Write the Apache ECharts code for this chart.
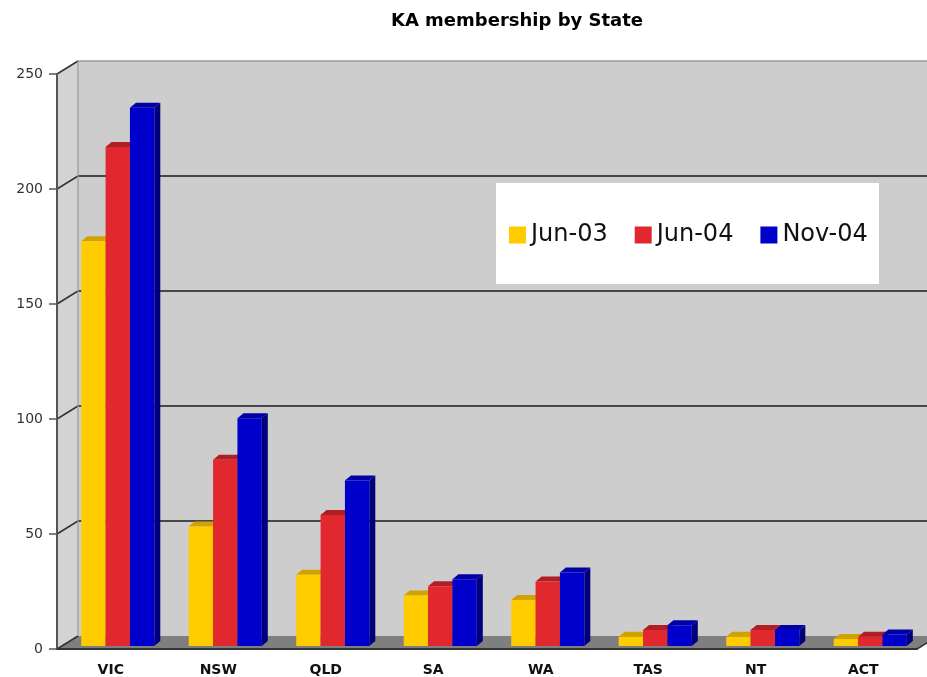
<!DOCTYPE html>
<html>
<head>
<meta charset="utf-8">
<script src="https://cdn.jsdelivr.net/npm/echarts@6/dist/echarts.min.js"></script>
<style>html,body{margin:0;padding:0;background:#fff}#c{width:927px;height:677px}</style>
</head>
<body>
<div id="c"></div>
<script>
const categories = ['VIC', 'NSW', 'QLD', 'SA', 'WA', 'TAS', 'NT', 'ACT'];
const seriesNames = ['Jun-03', 'Jun-04', 'Nov-04'];
const jun03 = [176, 52, 31, 22, 20, 4, 4, 3];
const jun04 = [217, 81, 57, 26, 28, 7, 7, 4];
const nov04 = [234, 99, 72, 29, 32, 9, 7, 5];
const yTicks = [0, 50, 100, 150, 200, 250];

const FONT = 'DejaVu Sans';
const WALL_DX = 21, WALL_DY = -13;
const BAR_OX = 7, BAR_OY = -3, BAR_DX = 6, BAR_DY = -5;
const GROUP_FRAC = 0.68;

const palettes = [
  { front: '#FFCC00', top: '#D2A200', side: '#B08A00' },
  { front: '#E0282E', top: '#B01F24', side: '#8E181C' },
  { front: '#0000CC', top: '#0000A6', side: '#00007A' }
];
const allSeries = [jun03, jun04, nov04];

function wallRender(params, api) {
  const cs = params.coordSys;
  const L = cs.x, R = cs.x + cs.width, T = cs.y, B = cs.y + cs.height;
  const ch = [];
  ch.push({ type: 'rect', shape: { x: L + WALL_DX, y: T + WALL_DY, width: R - L, height: B - T }, style: { fill: '#CDCDCD' } });
  ch.push({ type: 'polygon', shape: { points: [[L, T], [L + WALL_DX, T + WALL_DY], [L + WALL_DX, B + WALL_DY], [L, B]] }, style: { fill: '#D3D3D3' } });
  ch.push({ type: 'polygon', shape: { points: [[L, B], [L + WALL_DX, B + WALL_DY], [R + WALL_DX, B + WALL_DY], [R, B]] }, style: { fill: '#7F7F7F' } });
  yTicks.forEach(function (v) {
    const y = api.coord([0, v])[1];
    if (v > 0 && v < 250) {
      ch.push({ type: 'line', shape: { x1: L + WALL_DX, y1: y + WALL_DY, x2: R + WALL_DX, y2: y + WALL_DY }, style: { stroke: '#1a1a1a', lineWidth: 1.6 } });
    }
    if (v === 250) {
      ch.push({ type: 'line', shape: { x1: L + WALL_DX, y1: y + WALL_DY, x2: R + WALL_DX, y2: y + WALL_DY }, style: { stroke: '#9a9a9a', lineWidth: 1.5 } });
    }
    ch.push({ type: 'line', shape: { x1: L, y1: y, x2: L + WALL_DX, y2: y + WALL_DY }, style: { stroke: '#333', lineWidth: 1.5 } });
  });
  ch.push({ type: 'line', shape: { x1: L + WALL_DX, y1: T + WALL_DY, x2: L + WALL_DX, y2: B + WALL_DY }, style: { stroke: '#9a9a9a', lineWidth: 1.2 } });
  ch.push({ type: 'line', shape: { x1: R, y1: B, x2: R + WALL_DX, y2: B + WALL_DY }, style: { stroke: '#333', lineWidth: 1.5 } });
  return { type: 'group', children: ch };
}

function makeBarRender(s) {
  const p = palettes[s];
  return function (params, api) {
    const i = api.value(0), v = api.value(1);
    const base = api.coord([i, 0]);
    const top = api.coord([i, v]);
    const band = api.size([1, 0])[0];
    const gw = band * GROUP_FRAC, bw = gw / 3;
    const x0 = base[0] - gw / 2 + s * bw + BAR_OX;
    const yB = base[1] + BAR_OY, yT = top[1] + BAR_OY;
    return {
      type: 'group',
      children: [
        { type: 'polygon', shape: { points: [[x0 + bw, yT], [x0 + bw + BAR_DX, yT + BAR_DY], [x0 + bw + BAR_DX, yB + BAR_DY], [x0 + bw, yB]] }, style: { fill: p.side } },
        { type: 'polygon', shape: { points: [[x0, yT], [x0 + BAR_DX, yT + BAR_DY], [x0 + bw + BAR_DX, yT + BAR_DY], [x0 + bw, yT]] }, style: { fill: p.top } },
        { type: 'rect', shape: { x: x0, y: yT, width: bw, height: yB - yT }, style: { fill: p.front } }
      ]
    };
  };
}

const chart = echarts.init(document.getElementById('c'));
const series = [{
  type: 'custom', name: 'wall', renderItem: wallRender, data: [[0, 0]], clip: false, silent: true, z: 1
}];
allSeries.forEach(function (vals, s) {
  series.push({
    type: 'custom', name: seriesNames[s], renderItem: makeBarRender(s), clip: false, z: 2 + s,
    itemStyle: { color: palettes[s].front },
    data: vals.map(function (v, i) { return [i, v]; })
  });
});

chart.setOption({
  animation: false,
  backgroundColor: '#fff',
  textStyle: { fontFamily: FONT },
  title: {
    text: 'KA membership by State', left: 512, top: 7, textAlign: 'center',
    textStyle: { fontFamily: FONT, fontSize: 18, fontWeight: 'bold', color: '#000' }
  },
  graphic: [{ type: 'rect', z: 50, shape: { x: 496, y: 183, width: 383, height: 101 }, style: { fill: '#fff' } }],
  legend: {
    z: 60, left: 509, top: 223, padding: 0, itemWidth: 17, itemHeight: 17, itemGap: 27,
    icon: 'rect', data: seriesNames,
    textStyle: { fontFamily: FONT, fontSize: 24, color: '#111' }
  },
  grid: { left: 57, right: 10, top: 74, bottom: 28 },
  xAxis: {
    type: 'category', data: categories, z: 10,
    axisLine: { lineStyle: { color: '#333', width: 2 } },
    axisTick: { length: 6, lineStyle: { color: '#333', width: 1.5 } },
    axisLabel: { fontFamily: FONT, fontSize: 14, fontWeight: 'bold', color: '#111', margin: 14 },
    splitLine: { show: false }
  },
  yAxis: {
    type: 'value', min: 0, max: 250, interval: 50, z: 10,
    axisLine: { show: true, lineStyle: { color: '#555', width: 2 } },
    axisTick: { show: true, length: 8, lineStyle: { color: '#555', width: 1.5 } },
    axisLabel: { fontFamily: FONT, fontSize: 14, color: '#333', margin: 14 },
    splitLine: { show: false }
  },
  series: series
});
</script>
</body>
</html>
